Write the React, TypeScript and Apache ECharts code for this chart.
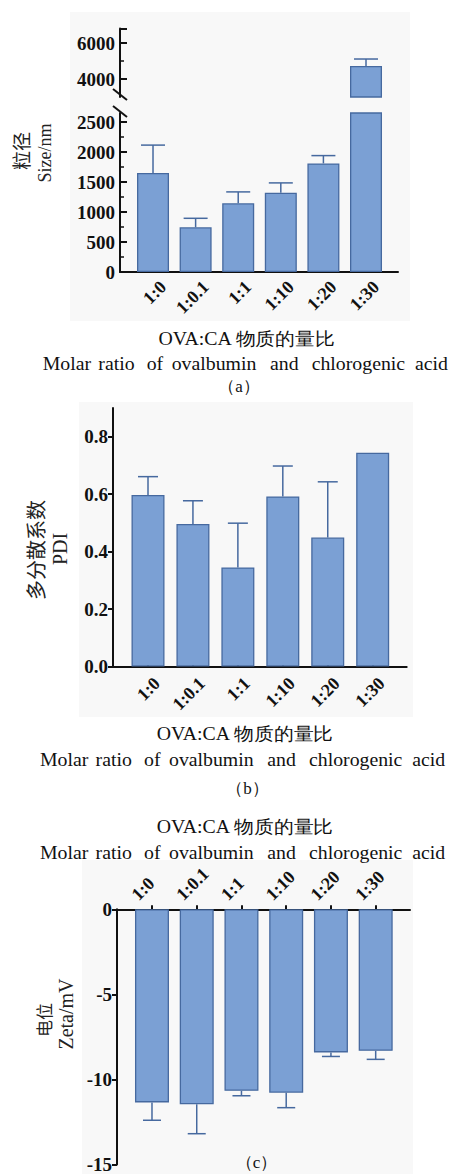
import React, { useEffect, useRef } from "react";
import * as echarts from "echarts";

// ---------- data ----------
const categories = ["1:0", "1:0.1", "1:1", "1:10", "1:20", "1:30"];
const sizeValues = [1650, 745, 1145, 1320, 1810, 4720];
const sizeErrors = [465, 150, 190, 165, 130, 390];
const pdiValues = [0.597, 0.496, 0.345, 0.592, 0.449, 0.744];
const pdiErrors = [0.064, 0.081, 0.154, 0.106, 0.194, 0];
const zetaValues = [-11.35, -11.46, -10.67, -10.78, -8.41, -8.32];
const zetaErrors = [1.05, 1.73, 0.29, 0.88, 0.24, 0.5];

const sizeUpperTicks = [4000, 6000];
const sizeUpperMinor = [5000];
const sizeLowerTicks = [0, 500, 1000, 1500, 2000, 2500];
const sizeLowerMinor = [250, 750, 1250, 1750, 2250];
const pdiTicks = [0, 0.2, 0.4, 0.6, 0.8];
const zetaTicks = [0, -5, -10, -15];

const captionCn = "OVA:CA 物质的量比";
const captionEnWords = ["Molar", "ratio", "of", "ovalbumin", "and", "chlorogenic", "acid"];
const panelTags = ["（a）", "（b）", "（c）"];
const yNames = [
  ["粒径", "Size/nm"],
  ["多分散系数", "PDI"],
  ["电位", "Zeta/mV"],
];

// ---------- styles ----------
const SERIF = "Liberation Serif";
const CJK = "Noto Sans CJK SC";
const BAR_FILL = "#7ba0d4";
const BAR_EDGE = "#46699f";
const INK = "#111111";
const catIdx = categories.map((_, i) => i);

const wordOffsets = [0, 55.6, 104, 129, 227.3, 269, 372.3];

function errSeries(xi: number, yi: number, data: number[][], sign: number, half: number) {
  return {
    type: "custom",
    xAxisIndex: xi,
    yAxisIndex: yi,
    z: 3,
    encode: { x: 0, y: 1 },
    data,
    renderItem: (params: any, api: any) => {
      const x = api.value(0);
      const v = api.value(1);
      const e = api.value(2);
      const p0 = api.coord([x, v]);
      const p1 = api.coord([x, v + sign * e]);
      const st = { stroke: BAR_EDGE, lineWidth: 1.5 };
      return {
        type: "group",
        children: [
          { type: "line", shape: { x1: p0[0], y1: p0[1], x2: p1[0], y2: p1[1] }, style: st },
          { type: "line", shape: { x1: p1[0] - half, y1: p1[1], x2: p1[0] + half, y2: p1[1] }, style: st },
        ],
      };
    },
  };
}

function barSeries(xi: number, yi: number, data: number[][], w: number) {
  return {
    type: "bar",
    xAxisIndex: xi,
    yAxisIndex: yi,
    barWidth: w,
    clip: true,
    data,
    itemStyle: { color: BAR_FILL, borderColor: BAR_EDGE, borderWidth: 1.3 },
  };
}

function catXAxis(grid: number, min: number, max: number, opts: any) {
  return {
    type: "value",
    gridIndex: grid,
    min,
    max,
    position: opts.position || "bottom",
    axisLine: { show: true, onZero: opts.position !== "top", lineStyle: { color: INK, width: 2 } },
    axisTick: { show: true, inside: !!opts.inside, length: 4, customValues: catIdx, lineStyle: { color: INK, width: 2 } },
    axisLabel: { show: false },
    splitLine: { show: false },
  };
}

// label-only category axis (rotated names)
function labelXAxis(grid: number, position: string, margin: number) {
  return {
    type: "category",
    gridIndex: grid,
    data: categories,
    position,
    axisLine: { show: false },
    axisTick: { show: false },
    splitLine: { show: false },
    axisLabel: {
      interval: 0,
      rotate: 45,
      margin,
      fontFamily: SERIF,
      fontWeight: "bold",
      fontSize: 18,
      color: INK,
    },
  };
}

function hiddenYAxis(grid: number) {
  return { type: "value", gridIndex: grid, show: false, min: 0, max: 1 };
}

function yAxisMajor(grid: number, min: number, max: number, ticks: number[], labels: number[], inside: boolean, fmt: (v: number) => string) {
  return {
    type: "value",
    gridIndex: grid,
    min,
    max,
    position: "left",
    axisLine: { show: true, onZero: false, lineStyle: { color: INK, width: 2 } },
    axisTick: { show: true, inside, length: inside ? 7 : 5, customValues: ticks, lineStyle: { color: INK, width: 2 } },
    axisLabel: {
      customValues: labels,
      formatter: fmt,
      margin: 5,
      fontFamily: SERIF,
      fontWeight: "bold",
      fontSize: 19,
      color: INK,
    },
    splitLine: { show: false },
  };
}

function yAxisMinor(grid: number, min: number, max: number, ticks: number[]) {
  return {
    type: "value",
    gridIndex: grid,
    min,
    max,
    position: "left",
    axisLine: { show: false, onZero: false },
    axisTick: { show: true, inside: true, length: 4, customValues: ticks, lineStyle: { color: INK, width: 1.5 } },
    axisLabel: { show: false },
    splitLine: { show: false },
  };
}

function captionGraphics(cnX: number, cnY: number, enX: number, enY: number, tag: string, tagX: number, tagY: number) {
  const els: any[] = [];
  els.push({
    type: "text",
    x: cnX,
    y: cnY,
    scaleX: 1.1,
    style: { text: captionCn, fontFamily: SERIF, fontSize: 18, fill: INK, align: "center", verticalAlign: "middle" },
  });
  captionEnWords.forEach((w, i) => {
    els.push({
      type: "text",
      x: enX + wordOffsets[i],
      y: enY,
      scaleX: 1.1,
      style: { text: w, fontFamily: SERIF, fontSize: 18, fill: INK, align: "left", verticalAlign: "middle" },
    });
  });
  els.push({
    type: "text",
    x: tagX,
    y: tagY,
    style: { text: tag, fontFamily: SERIF, fontSize: 17, fill: INK, align: "center", verticalAlign: "middle" },
  });
  return els;
}

function yNameGraphic(text: string, x: number, y: number, size: number, family: string) {
  return {
    type: "text",
    x,
    y,
    rotation: Math.PI / 2,
    style: { text, fontFamily: family, fontSize: size, fill: "#222222", align: "center", verticalAlign: "middle" },
  };
}

export default function App() {
  const ref = useRef<HTMLDivElement>(null);
  useEffect(() => {
    if (!ref.current) return;
    const chart = echarts.init(ref.current, undefined, { renderer: "svg" });

    const upperMin = 3000;
    const upperMax = 6800;
    const lowerMax = 2650;

    const sizeAll = sizeValues.map((v, i) => [i, v]);
    const sizeUpper = sizeValues.map((v, i) => [i, v]).filter((d) => d[1] > upperMin);
    const sizeErrUpper = sizeValues.map((v, i) => [i, v, sizeErrors[i]]).filter((d) => d[1] > upperMin);
    const sizeErrLower = sizeValues.map((v, i) => [i, v, sizeErrors[i]]).filter((d) => d[1] + d[2] <= lowerMax);
    const pdiAll = pdiValues.map((v, i) => [i, v]);
    const pdiErr = pdiValues.map((v, i) => [i, v, pdiErrors[i]]).filter((d) => d[2] > 0);
    const zetaAll = zetaValues.map((v, i) => [i, v]);
    const zetaErr = zetaValues.map((v, i) => [i, v, zetaErrors[i]]);

    const bg = (x: number, y: number, w: number, h: number) => ({
      type: "rect",
      z: -10,
      shape: { x, y, width: w, height: h },
      style: { fill: "#f8f8f8" },
    });

    const graphics: any[] = [
      bg(70, 12, 340, 309),
      bg(79, 402, 334, 315),
      bg(82, 860, 331, 314),
      // axis break marks
      { type: "line", shape: { x1: 113, y1: 89, x2: 127, y2: 100 }, style: { stroke: INK, lineWidth: 2 } },
      { type: "line", shape: { x1: 113, y1: 106, x2: 127, y2: 117 }, style: { stroke: INK, lineWidth: 2 } },
      yNameGraphic(yNames[0][0], 20, 151, 19, CJK),
      yNameGraphic(yNames[0][1], 45, 153, 18, SERIF),
      yNameGraphic(yNames[1][0], 35, 550, 20, CJK),
      yNameGraphic(yNames[1][1], 60, 549, 20, SERIF),
      yNameGraphic(yNames[2][0], 43, 1020, 17, CJK),
      yNameGraphic(yNames[2][1], 66, 1014, 20, SERIF),
      ...captionGraphics(246.7, 339, 42.7, 364, panelTags[0], 239, 386),
      ...captionGraphics(245, 734, 40, 760, panelTags[1], 247.5, 788),
      ...captionGraphics(245, 827, 40, 853, panelTags[2], 256.5, 1162),
    ];

    const option: any = {
      animation: false,
      grid: [
        { left: 120, top: 28.6, width: 278, height: 68.4 },
        { left: 120, top: 113, width: 278, height: 159 },
        { left: 113, top: 408, width: 293.7, height: 258.5 },
        { left: 117, top: 909.3, width: 293, height: 257.4 },
        // label-only grids (category bands aligned with the bars)
        { left: 141.7, top: 113, width: 255.6, height: 159 },
        { left: 134.5, top: 408, width: 269.6, height: 258.5 },
        { left: 112.1, top: 909.3, width: 268.4, height: 257.4 },
      ],
      xAxis: [
        { type: "value", gridIndex: 0, min: -0.775, max: 5.751, show: false },
        catXAxis(1, -0.775, 5.751, { inside: true }),
        catXAxis(2, -0.779, 5.757, { inside: true }),
        catXAxis(3, -0.782, 5.767, { position: "top", inside: false }),
        labelXAxis(4, "bottom", 12),
        labelXAxis(5, "bottom", 14),
        labelXAxis(6, "top", 12),
      ],
      yAxis: [
        yAxisMajor(0, upperMin, upperMax, [...sizeUpperTicks, upperMax], sizeUpperTicks, true, (v) => String(v)),
        yAxisMinor(0, upperMin, upperMax, sizeUpperMinor),
        yAxisMajor(1, 0, lowerMax, sizeLowerTicks, sizeLowerTicks, true, (v) => String(v)),
        yAxisMinor(1, 0, lowerMax, sizeLowerMinor),
        yAxisMajor(2, 0, 0.9, pdiTicks, pdiTicks, false, (v) => v.toFixed(1)),
        yAxisMajor(3, -15, 0, zetaTicks, zetaTicks, false, (v) => String(v)),
        hiddenYAxis(4),
        hiddenYAxis(5),
        hiddenYAxis(6),
      ],
      series: [
        barSeries(0, 0, sizeUpper, 32),
        barSeries(1, 2, sizeAll, 32),
        errSeries(0, 0, sizeErrUpper, 1, 12),
        errSeries(1, 2, sizeErrLower, 1, 12),
        barSeries(2, 4, pdiAll, 33),
        errSeries(2, 4, pdiErr, 1, 10),
        barSeries(3, 5, zetaAll, 34),
        errSeries(3, 5, zetaErr, -1, 9),
      ],
      graphic: graphics,
    };
    chart.setOption(option);
    return () => chart.dispose();
  }, []);
  return <div ref={ref} style={{ position: "absolute", left: 0, top: 0, width: 456, height: 1174 }} />;
}
